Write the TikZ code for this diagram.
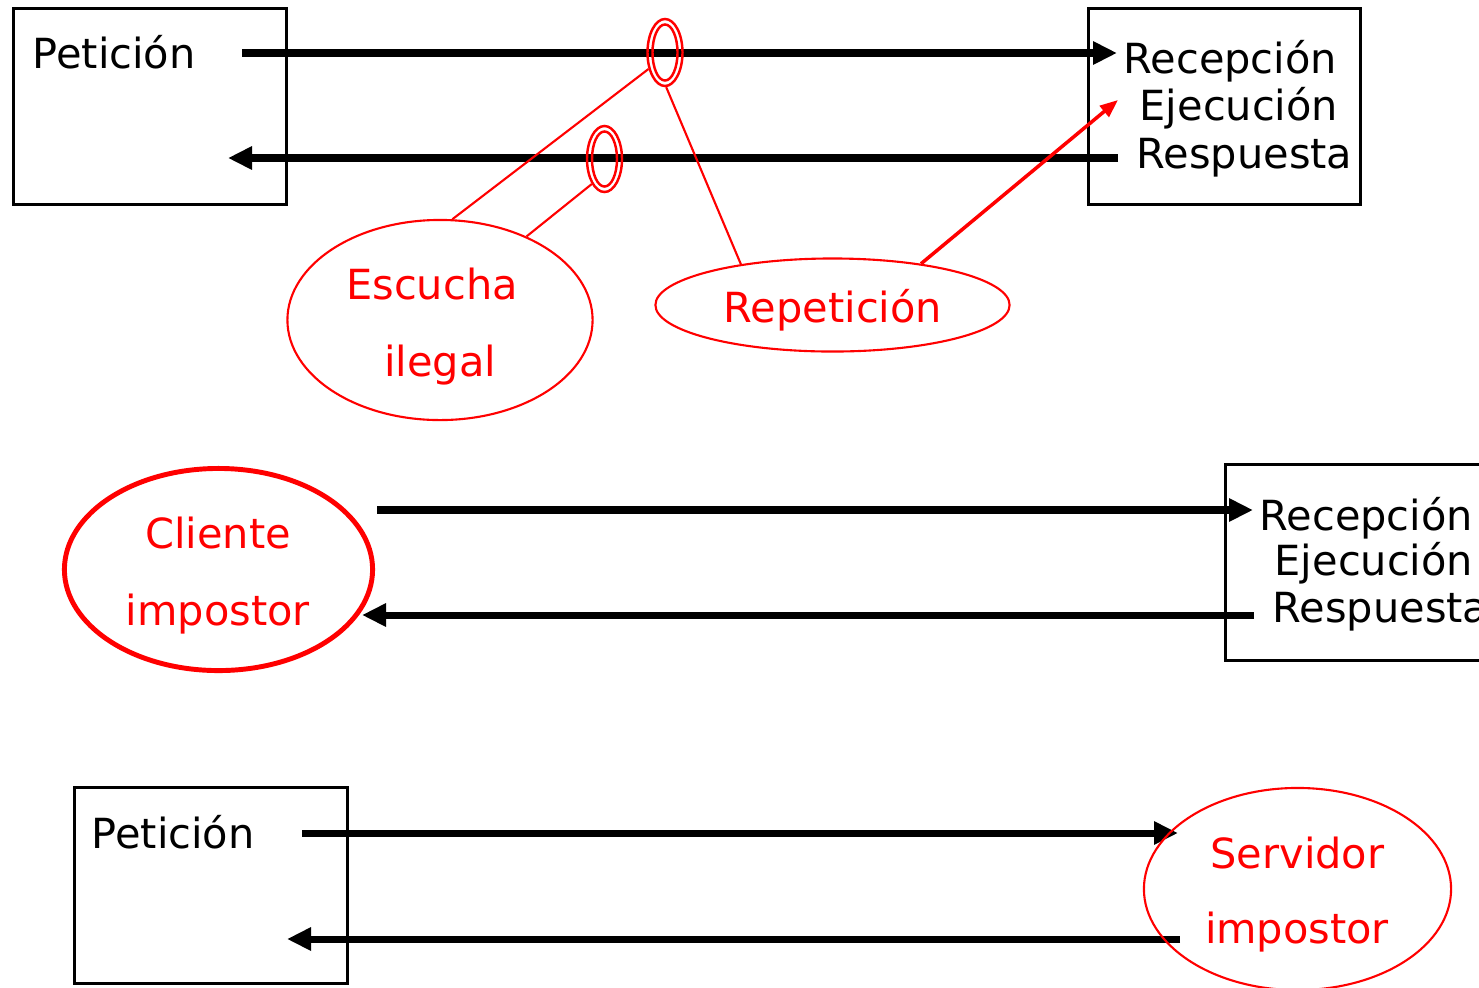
\documentclass[tikz,border=0pt]{standalone}
\usepackage{fontspec}
\setmainfont{DejaVu Sans}
\usetikzlibrary{arrows.meta, shapes.geometric}

\begin{document}
\begin{tikzpicture}[x=0.01cm, y=0.01cm,
    every node/.style={font=\fontsize{11.8}{13}\selectfont, inner sep=0pt},
    txt/.style={anchor=base west},
    lbl/.style={anchor=base, text=red},
    box/.style={draw, line width=0.85pt},
    msg/.style={line width=2pt, -{Triangle[length=0.24cm, width=0.22cm]}},
    attack/.style={ellipse, draw=red, line width=0.6pt},
    ring/.style={ellipse, draw=red, line width=0.7pt},
    link/.style={red, line width=0.6pt}]
    \useasboundingbox (0,0) rectangle (1479,-987);
    \clip (0,0) rectangle (1479,-987);

    % Boxes
    \node[box, minimum width=2.72cm, minimum height=1.96cm] (cli1) at (150,-106.5) {};
    \node[box, minimum width=2.72cm, minimum height=1.96cm] (srv1) at (1224.5,-106.5) {};
    \node[box, minimum width=3.00cm, minimum height=1.95cm] (srv2) at (1375.5,-562.5) {};
    \node[box, minimum width=2.72cm, minimum height=1.95cm] (cli3) at (211,-885.5) {};

    % Texts in the boxes
    \node[txt] (pet1) at (32,-68) {Petición};
    \node[txt] (rec1) at (1123,-73) {Recepción};
    \node[txt] (eje1) at (1139,-120) {Ejecución};
    \node[txt] (res1) at (1136,-168) {Respuesta};
    \node[txt] (rec2) at (1259,-530) {Recepción};
    \node[txt] (eje2) at (1274,-575) {Ejecución};
    \node[txt] (res2) at (1272,-622) {Respuesta};
    \node[txt] (pet3) at (91,-848) {Petición};

    % Arrow ends
    \coordinate (a1) at (242,-53);   \coordinate (b1) at (1117,-53);
    \coordinate (c1) at (1118,-158); \coordinate (d1) at (228,-158);
    \coordinate (a2) at (377,-510);  \coordinate (b2) at (1253,-510);
    \coordinate (c2) at (1254,-615); \coordinate (d2) at (362,-615);
    \coordinate (a3) at (302,-833);  \coordinate (b3) at (1178,-833);
    \coordinate (c3) at (1180,-939); \coordinate (d3) at (287,-939);
    \coordinate (hit) at (1118,-100);

    % Messages
    \draw[msg] (a1) -- (b1);
    \draw[msg] (c1) -- (d1);
    \draw[msg] (a2) -- (b2);
    \draw[msg] (c2) -- (d2);
    \draw[msg] (a3) -- (b3);
    \draw[msg] (c3) -- (d3);

    % Attacks
    \node[attack, minimum width=3.05cm, minimum height=2.00cm] (esc) at (440,-320) {};
    \node[attack, minimum width=3.54cm, minimum height=0.93cm] (rep) at (832.5,-305) {};
    \node[attack, line width=1.4pt, minimum width=3.08cm, minimum height=2.02cm] (fake) at (218.5,-569.5) {};
    \node[attack, minimum width=3.07cm, minimum height=2.02cm] (spoof) at (1297.5,-889) {};

    \node[lbl] (esc1) at (432,-299) {Escucha};
    \node[lbl] (esc2) at (440,-376) {ilegal};
    \node[lbl] (rep1) at (833,-322) {Repetición};
    \node[lbl] (fake1) at (218,-548) {Cliente};
    \node[lbl] (fake2) at (218,-625) {impostor};
    \node[lbl] (spoof1) at (1297.5,-868) {Servidor};
    \node[lbl] (spoof2) at (1297,-943) {impostor};

    % Taps on the wire
    \node[ring, minimum width=0.35cm, minimum height=0.67cm] (r1) at (665,-52.5) {};
    \node[ring, minimum width=0.25cm, minimum height=0.56cm] (r1in) at (r1) {};
    \node[ring, minimum width=0.35cm, minimum height=0.66cm] (r2) at (604.5,-159) {};
    \node[ring, minimum width=0.25cm, minimum height=0.55cm] (r2in) at (r2) {};

    \draw[link] (esc.83) -- (r1.225);
    \draw[link] (esc.44) -- (r2.243);
    \draw[link] (r1.272) -- (rep.156);
    \draw[red, line width=1pt, -{Triangle[length=0.18cm, width=0.14cm]}] (rep.25) -- (hit);
  \end{tikzpicture}
\end{document}
